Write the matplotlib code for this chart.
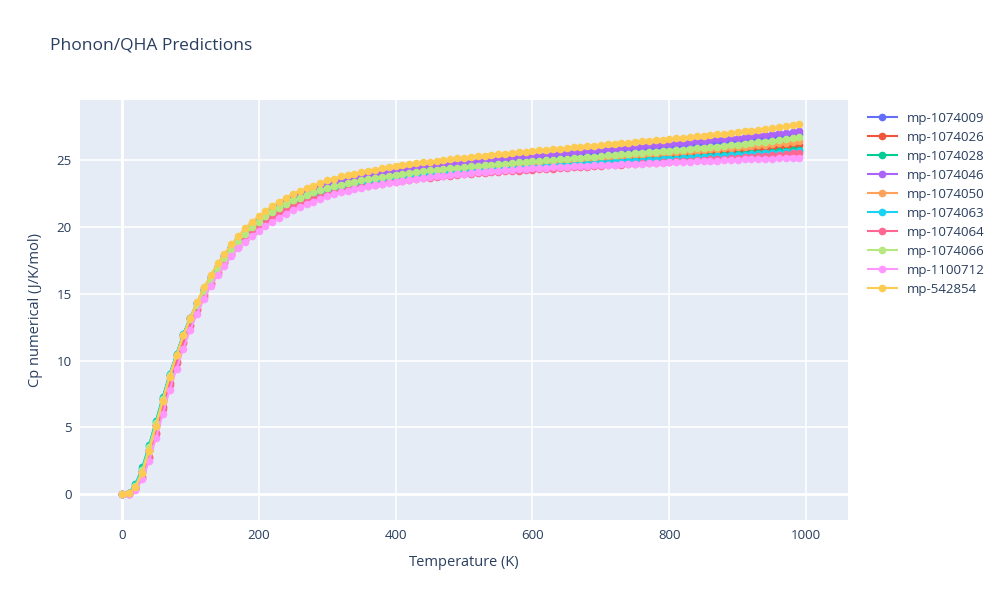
import matplotlib
matplotlib.use('Agg')
import matplotlib.pyplot as plt

plt.rcParams["font.family"] = "Open Sans"

temps = list(range(0, 1000, 10))

names = ["mp-1074009", "mp-1074026", "mp-1074028", "mp-1074046", "mp-1074050",
         "mp-1074063", "mp-1074064", "mp-1074066", "mp-1100712", "mp-542854"]
colors = ["#636efa", "#EF553B", "#00cc96", "#ab63fa", "#FFA15A",
          "#19d3f3", "#FF6692", "#B6E880", "#FF97FF", "#FECB52"]

cp_1074009 = [0, 0.05, 0.55, 1.7, 3.3, 5.2, 7.1, 8.9, 10.4, 11.9,
              13.2, 14.3, 15.3, 16.2, 17.0, 17.8, 18.4, 19.0, 19.6, 20.1,
              20.5, 20.9, 21.3, 21.6, 21.9, 22.1, 22.35, 22.55, 22.75, 22.9,
              23.05, 23.2, 23.33, 23.45, 23.56, 23.67, 23.77, 23.86, 23.95, 24.04,
              24.12, 24.19, 24.26, 24.33, 24.39, 24.45, 24.51, 24.57, 24.62, 24.67,
              24.72, 24.77, 24.82, 24.87, 24.92, 24.97, 25.01, 25.06, 25.1, 25.15,
              25.19, 25.24, 25.28, 25.32, 25.37, 25.41, 25.45, 25.5, 25.54, 25.58,
              25.63, 25.67, 25.71, 25.76, 25.8, 25.84, 25.89, 25.93, 25.97, 26.02,
              26.06, 26.1, 26.15, 26.19, 26.24, 26.28, 26.33, 26.37, 26.42, 26.46,
              26.51, 26.56, 26.61, 26.66, 26.71, 26.77, 26.82, 26.88, 26.94, 27.0]
cp_1074026 = [0, 0.04, 0.4, 1.3, 2.8, 4.6, 6.5, 8.3, 9.9, 11.4,
              12.7, 13.9, 14.9, 15.8, 16.6, 17.4, 18.0, 18.6, 19.1, 19.5,
              19.9, 20.3, 20.7, 21.0, 21.3, 21.55, 21.8, 22.0, 22.2, 22.35,
              22.5, 22.64, 22.77, 22.89, 23.0, 23.1, 23.2, 23.29, 23.38, 23.46,
              23.53, 23.6, 23.67, 23.73, 23.79, 23.85, 23.9, 23.95, 24.0, 24.05,
              24.1, 24.14, 24.18, 24.22, 24.26, 24.3, 24.34, 24.38, 24.42, 24.46,
              24.5, 24.54, 24.58, 24.62, 24.66, 24.7, 24.74, 24.78, 24.82, 24.86,
              24.9, 24.94, 24.98, 25.02, 25.06, 25.1, 25.14, 25.18, 25.22, 25.26,
              25.3, 25.34, 25.38, 25.42, 25.46, 25.5, 25.54, 25.58, 25.62, 25.66,
              25.7, 25.75, 25.8, 25.85, 25.9, 25.95, 26.0, 26.05, 26.1, 26.16]
cp_1074028 = [0, 0.08, 0.75, 2.0, 3.7, 5.5, 7.3, 9.0, 10.5, 12.0,
              13.2, 14.3, 15.3, 16.2, 17.0, 17.7, 18.4, 19.0, 19.5, 20.0,
              20.4, 20.8, 21.15, 21.45, 21.7, 21.95, 22.15, 22.35, 22.5, 22.65,
              22.8, 22.93, 23.05, 23.16, 23.26, 23.36, 23.45, 23.53, 23.61, 23.68,
              23.75, 23.81, 23.87, 23.93, 23.98, 24.03, 24.08, 24.12, 24.16, 24.2,
              24.24, 24.28, 24.32, 24.35, 24.38, 24.41, 24.44, 24.47, 24.5, 24.53,
              24.56, 24.59, 24.62, 24.65, 24.68, 24.71, 24.74, 24.77, 24.8, 24.83,
              24.86, 24.89, 24.92, 24.95, 24.98, 25.01, 25.04, 25.07, 25.1, 25.13,
              25.16, 25.19, 25.22, 25.25, 25.28, 25.31, 25.34, 25.37, 25.4, 25.43,
              25.46, 25.49, 25.52, 25.55, 25.58, 25.62, 25.66, 25.7, 25.74, 25.78]
cp_1074046 = [0, 0.05, 0.55, 1.7, 3.3, 5.2, 7.1, 8.9, 10.4, 11.9,
              13.2, 14.3, 15.4, 16.3, 17.1, 17.9, 18.5, 19.1, 19.7, 20.2,
              20.6, 21.0, 21.4, 21.7, 22.0, 22.2, 22.45, 22.65, 22.85, 23.0,
              23.15, 23.3, 23.43, 23.55, 23.66, 23.77, 23.87, 23.97, 24.06, 24.15,
              24.23, 24.3, 24.37, 24.44, 24.5, 24.56, 24.62, 24.68, 24.74, 24.8,
              24.85, 24.9, 24.95, 25.0, 25.05, 25.1, 25.15, 25.2, 25.25, 25.3,
              25.34, 25.39, 25.43, 25.48, 25.52, 25.57, 25.61, 25.66, 25.7, 25.75,
              25.79, 25.84, 25.88, 25.93, 25.97, 26.02, 26.06, 26.11, 26.15, 26.2,
              26.24, 26.29, 26.33, 26.38, 26.42, 26.47, 26.51, 26.56, 26.6, 26.65,
              26.7, 26.75, 26.8, 26.86, 26.91, 26.96, 27.02, 27.07, 27.13, 27.2]
cp_1074050 = [0, 0.05, 0.5, 1.6, 3.2, 5.0, 6.9, 8.7, 10.3, 11.8,
              13.0, 14.1, 15.1, 16.0, 16.8, 17.5, 18.2, 18.8, 19.3, 19.8,
              20.2, 20.6, 21.0, 21.3, 21.6, 21.85, 22.05, 22.25, 22.45, 22.6,
              22.75, 22.89, 23.02, 23.14, 23.25, 23.35, 23.45, 23.54, 23.63, 23.71,
              23.78, 23.85, 23.92, 23.98, 24.04, 24.1, 24.15, 24.2, 24.25, 24.3,
              24.35, 24.4, 24.44, 24.49, 24.53, 24.57, 24.61, 24.65, 24.69, 24.73,
              24.77, 24.81, 24.85, 24.89, 24.93, 24.97, 25.01, 25.05, 25.09, 25.13,
              25.17, 25.21, 25.25, 25.29, 25.33, 25.37, 25.41, 25.45, 25.49, 25.53,
              25.57, 25.61, 25.65, 25.69, 25.73, 25.77, 25.81, 25.85, 25.89, 25.93,
              25.97, 26.02, 26.07, 26.12, 26.17, 26.22, 26.27, 26.32, 26.38, 26.44]
cp_1074063 = [0, 0.07, 0.7, 1.9, 3.6, 5.4, 7.2, 9.0, 10.5, 12.0,
              13.2, 14.3, 15.3, 16.2, 17.0, 17.8, 18.5, 19.1, 19.6, 20.1,
              20.5, 20.9, 21.2, 21.5, 21.75, 22.0, 22.2, 22.4, 22.55, 22.7,
              22.85, 22.98, 23.1, 23.2, 23.3, 23.39, 23.47, 23.55, 23.62, 23.69,
              23.75, 23.81, 23.86, 23.91, 23.96, 24.0, 24.04, 24.08, 24.12, 24.16,
              24.2, 24.23, 24.26, 24.29, 24.32, 24.35, 24.38, 24.41, 24.44, 24.47,
              24.5, 24.53, 24.56, 24.59, 24.62, 24.65, 24.68, 24.71, 24.74, 24.77,
              24.8, 24.83, 24.86, 24.89, 24.92, 24.95, 24.98, 25.01, 25.04, 25.07,
              25.1, 25.13, 25.16, 25.19, 25.22, 25.25, 25.28, 25.31, 25.34, 25.37,
              25.4, 25.43, 25.46, 25.49, 25.52, 25.55, 25.58, 25.61, 25.64, 25.68]
cp_1074064 = [0, 0.04, 0.35, 1.2, 2.7, 4.5, 6.4, 8.2, 9.8, 11.3,
              12.6, 13.8, 14.8, 15.7, 16.5, 17.3, 17.9, 18.5, 19.0, 19.5,
              19.9, 20.3, 20.65, 20.95, 21.25, 21.5, 21.7, 21.9, 22.1, 22.25,
              22.4, 22.54, 22.67, 22.79, 22.9, 23.0, 23.09, 23.18, 23.26, 23.34,
              23.41, 23.48, 23.54, 23.6, 23.66, 23.71, 23.76, 23.81, 23.86, 23.9,
              23.94, 23.98, 24.02, 24.06, 24.1, 24.14, 24.17, 24.2, 24.23, 24.26,
              24.29, 24.32, 24.35, 24.38, 24.41, 24.44, 24.47, 24.5, 24.53, 24.56,
              24.59, 24.62, 24.65, 24.68, 24.71, 24.74, 24.77, 24.8, 24.83, 24.86,
              24.89, 24.92, 24.95, 24.98, 25.01, 25.04, 25.07, 25.1, 25.13, 25.16,
              25.19, 25.23, 25.27, 25.31, 25.35, 25.39, 25.43, 25.47, 25.51, 25.56]
cp_1074066 = [0, 0.06, 0.6, 1.8, 3.5, 5.3, 7.1, 8.9, 10.4, 11.9,
              13.1, 14.2, 15.2, 16.1, 16.9, 17.7, 18.3, 18.9, 19.5, 20.0,
              20.4, 20.8, 21.15, 21.45, 21.75, 22.0, 22.2, 22.4, 22.6, 22.75,
              22.9, 23.04, 23.17, 23.29, 23.4, 23.5, 23.6, 23.69, 23.78, 23.86,
              23.93, 24.0, 24.07, 24.13, 24.19, 24.25, 24.3, 24.35, 24.4, 24.45,
              24.5, 24.55, 24.59, 24.64, 24.68, 24.72, 24.76, 24.8, 24.84, 24.88,
              24.92, 24.96, 25.0, 25.04, 25.08, 25.12, 25.16, 25.2, 25.24, 25.28,
              25.32, 25.36, 25.4, 25.44, 25.48, 25.52, 25.56, 25.6, 25.64, 25.68,
              25.72, 25.76, 25.8, 25.84, 25.89, 25.93, 25.97, 26.02, 26.06, 26.11,
              26.16, 26.22, 26.28, 26.34, 26.4, 26.46, 26.53, 26.6, 26.68, 26.76]
cp_1100712 = [0, 0.03, 0.3, 1.1, 2.5, 4.2, 6.0, 7.8, 9.4, 10.9,
              12.3, 13.5, 14.6, 15.6, 16.4, 17.1, 17.8, 18.4, 18.9, 19.3,
              19.7, 20.05, 20.4, 20.7, 21.0, 21.3, 21.5, 21.7, 21.9, 22.1,
              22.3, 22.45, 22.6, 22.73, 22.85, 22.96, 23.06, 23.16, 23.25, 23.33,
              23.41, 23.48, 23.55, 23.62, 23.68, 23.74, 23.8, 23.86, 23.91, 23.96,
              24.01, 24.06, 24.1, 24.14, 24.18, 24.22, 24.26, 24.3, 24.33, 24.36,
              24.39, 24.42, 24.45, 24.48, 24.51, 24.53, 24.56, 24.58, 24.6, 24.62,
              24.64, 24.66, 24.68, 24.7, 24.72, 24.74, 24.76, 24.78, 24.8, 24.82,
              24.84, 24.86, 24.88, 24.9, 24.92, 24.94, 24.96, 24.98, 25.0, 25.02,
              25.04, 25.06, 25.08, 25.1, 25.11, 25.13, 25.15, 25.16, 25.18, 25.2]
cp_542854 = [0, 0.05, 0.5, 1.6, 3.2, 5.1, 7.0, 8.8, 10.4, 11.9,
             13.2, 14.4, 15.5, 16.4, 17.3, 18.0, 18.7, 19.3, 19.9, 20.4,
             20.8, 21.2, 21.6, 21.9, 22.2, 22.5, 22.7, 22.9, 23.1, 23.3,
             23.5, 23.6, 23.8, 23.9, 24.0, 24.1, 24.2, 24.3, 24.4, 24.5,
             24.6, 24.66, 24.72, 24.78, 24.84, 24.9, 24.96, 25.02, 25.08, 25.14,
             25.2, 25.25, 25.3, 25.35, 25.4, 25.45, 25.5, 25.55, 25.6, 25.65,
             25.7, 25.74, 25.79, 25.83, 25.88, 25.92, 25.97, 26.01, 26.06, 26.1,
             26.15, 26.19, 26.24, 26.28, 26.33, 26.37, 26.42, 26.46, 26.51, 26.55,
             26.6, 26.65, 26.7, 26.75, 26.8, 26.85, 26.9, 26.95, 27.0, 27.05,
             27.1, 27.16, 27.23, 27.29, 27.36, 27.42, 27.49, 27.56, 27.63, 27.7]

series = [cp_1074009, cp_1074026, cp_1074028, cp_1074046, cp_1074050,
          cp_1074063, cp_1074064, cp_1074066, cp_1100712, cp_542854]

fig = plt.figure(figsize=(10, 6), dpi=100)
ax = fig.add_axes([0.08, 0.133, 0.768, 0.70])
ax.set_facecolor("#E5ECF6")
for s in ax.spines.values():
    s.set_visible(False)
ax.grid(True, color="white", linewidth=1.2)
ax.set_axisbelow(True)
ax.tick_params(length=0, labelsize=9.5, colors="#2a3f5f", pad=6)

for name, col, vals in zip(names, colors, series):
    ax.plot(temps, vals, color=col, lw=1.5, marker="o", ms=4.5, label=name)

ax.axhline(0, color="white", lw=2, zorder=1)
ax.axvline(0, color="white", lw=2, zorder=1)
ax.set_xlim(-61, 1061)
ax.set_ylim(-1.95, 29.5)
ax.set_xticks([0, 200, 400, 600, 800, 1000])
ax.set_yticks([0, 5, 10, 15, 20, 25])
ax.set_xlabel("Temperature (K)", fontsize=10.5, color="#2a3f5f", labelpad=10)
ax.set_ylabel("Cp numerical (J/K/mol)", fontsize=10.5, color="#2a3f5f", labelpad=10)
fig.text(0.05, 0.918, "Phonon/QHA Predictions", fontsize=12.5, color="#2a3f5f")
ax.legend(loc="upper left", bbox_to_anchor=(1.01, 1.0), frameon=False,
          fontsize=9.5, labelcolor="#2a3f5f", handlelength=2.2, labelspacing=0.45)

fig.savefig("out.png", dpi=100)
